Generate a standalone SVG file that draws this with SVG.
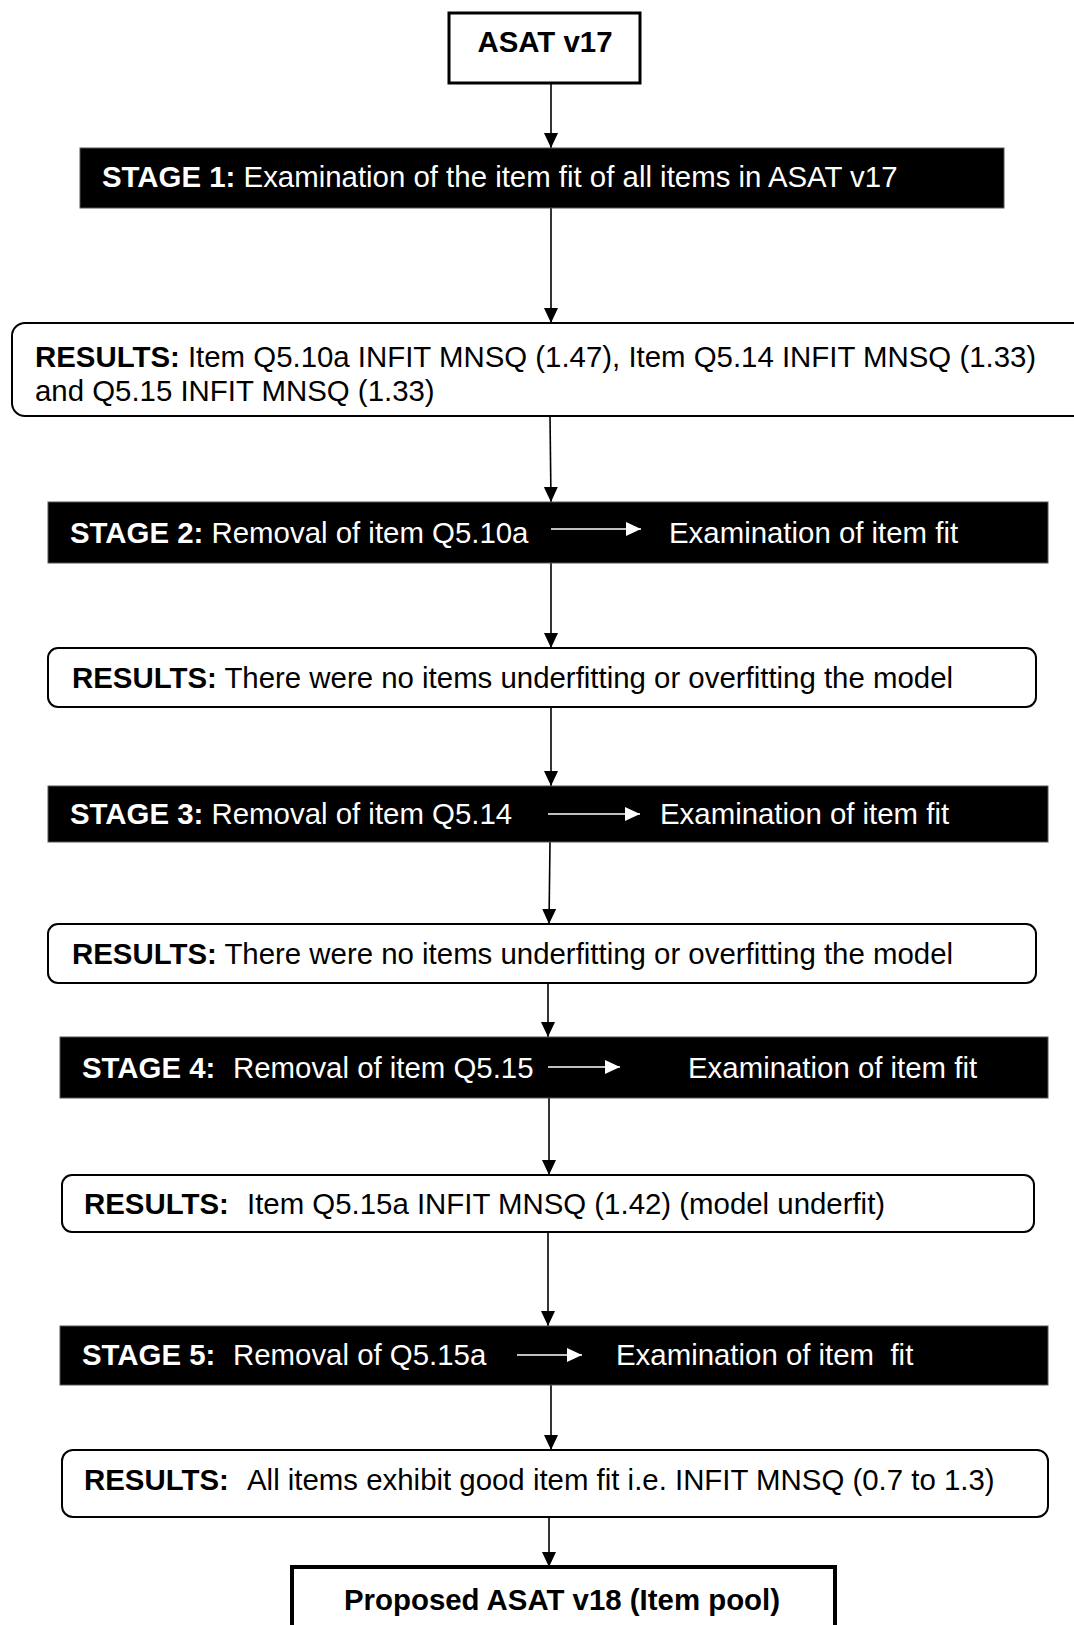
<svg xmlns="http://www.w3.org/2000/svg" width="1074" height="1625" viewBox="0 0 1074 1625">
<style>
text{font-family:"Liberation Sans",Arial,sans-serif;font-size:29.4px}
.b{font-weight:bold}
.w{fill:#fff}
.k{fill:#000}
.stage{fill:#000;stroke:#555;stroke-width:1}
.res{fill:#fff;stroke:#000;stroke-width:2}
.term{fill:#fff;stroke:#000}
.conn{stroke:#000;stroke-width:1.6;fill:none;marker-end:url(#ah)}
.inl{stroke:#fff;stroke-width:1.6;fill:none;marker-end:url(#ahw)}
</style>
<defs>
<marker id="ah" markerUnits="userSpaceOnUse" markerWidth="16" markerHeight="16" viewBox="0 0 16 16" refX="15" refY="8" orient="auto">
<path d="M0,1 L15,8 L0,15 Z" fill="#000"/>
</marker>
<marker id="ahw" markerUnits="userSpaceOnUse" markerWidth="16" markerHeight="16" viewBox="0 0 16 16" refX="15" refY="8" orient="auto">
<path d="M0,1 L15,8 L0,15 Z" fill="#fff"/>
</marker>
</defs>
<rect width="1074" height="1625" fill="#fff"/>

<g id="connectors">
<line class="conn" x1="551" y1="84" x2="551" y2="148"/>
<line class="conn" x1="551" y1="208" x2="551" y2="323"/>
<line class="conn" x1="550" y1="416" x2="551" y2="502"/>
<line class="conn" x1="551" y1="563" x2="551" y2="648"/>
<line class="conn" x1="551" y1="707" x2="551" y2="786"/>
<line class="conn" x1="550" y1="842" x2="549" y2="924"/>
<line class="conn" x1="548" y1="983" x2="548" y2="1037"/>
<line class="conn" x1="549" y1="1098" x2="549" y2="1175"/>
<line class="conn" x1="548" y1="1232" x2="548" y2="1326"/>
<line class="conn" x1="551" y1="1385" x2="551" y2="1450"/>
<line class="conn" x1="549" y1="1517" x2="549" y2="1567"/>
</g>

<g id="asat17">
<rect class="term" x="449" y="13" width="191" height="70" stroke-width="3"/>
<text class="b k" x="545" y="52" text-anchor="middle">ASAT v17</text>
</g>

<g id="stage1">
<rect class="stage" x="80" y="148" width="924" height="60"/>
<text class="w" x="102" y="187"><tspan class="b">STAGE 1:</tspan> Examination of the item fit of all items in ASAT v17</text>
</g>

<g id="results1">
<rect class="res" x="12" y="323" width="1075" height="93" rx="13"/>
<text class="k" x="35" y="367"><tspan class="b">RESULTS:</tspan> Item Q5.10a INFIT MNSQ (1.47), Item Q5.14 INFIT MNSQ (1.33)</text>
<text class="k" x="35" y="401">and Q5.15 INFIT MNSQ (1.33)</text>
</g>

<g id="stage2">
<rect class="stage" x="48" y="502" width="1000" height="61"/>
<text class="w" x="70" y="543"><tspan class="b">STAGE 2:</tspan> Removal of item Q5.10a</text>
<line class="inl" x1="551" y1="529" x2="641" y2="529"/>
<text class="w" x="669" y="543">Examination of item fit</text>
</g>

<g id="results2">
<rect class="res" x="48" y="648" width="988" height="59" rx="10"/>
<text class="k" x="72" y="688"><tspan class="b">RESULTS:</tspan> There were no items underfitting or overfitting the model</text>
</g>

<g id="stage3">
<rect class="stage" x="48" y="786" width="1000" height="56"/>
<text class="w" x="70" y="824"><tspan class="b">STAGE 3:</tspan> Removal of item Q5.14</text>
<line class="inl" x1="548" y1="814" x2="640" y2="814"/>
<text class="w" x="660" y="824">Examination of item fit</text>
</g>

<g id="results3">
<rect class="res" x="48" y="924" width="988" height="59" rx="10"/>
<text class="k" x="72" y="964"><tspan class="b">RESULTS:</tspan> There were no items underfitting or overfitting the model</text>
</g>

<g id="stage4">
<rect class="stage" x="60" y="1037" width="988" height="61"/>
<text class="w b" x="82" y="1078">STAGE 4:</text>
<text class="w" x="233" y="1078">Removal of item Q5.15</text>
<line class="inl" x1="548" y1="1067" x2="620" y2="1067"/>
<text class="w" x="688" y="1078">Examination of item fit</text>
</g>

<g id="results4">
<rect class="res" x="62" y="1175" width="972" height="57" rx="10"/>
<text class="k b" x="84" y="1214">RESULTS:</text>
<text class="k" x="247" y="1214">Item Q5.15a INFIT MNSQ (1.42) (model underfit)</text>
</g>

<g id="stage5">
<rect class="stage" x="60" y="1326" width="988" height="59"/>
<text class="w b" x="82" y="1365">STAGE 5:</text>
<text class="w" x="233" y="1365">Removal of Q5.15a</text>
<line class="inl" x1="517" y1="1355" x2="582" y2="1355"/>
<text class="w" x="616" y="1365" xml:space="preserve">Examination of item  fit</text>
</g>

<g id="results5">
<rect class="res" x="62" y="1450" width="986" height="67" rx="11"/>
<text class="k b" x="84" y="1490">RESULTS:</text>
<text class="k" x="247" y="1490">All items exhibit good item fit i.e. INFIT MNSQ (0.7 to 1.3)</text>
</g>

<g id="asat18">
<rect class="term" x="292" y="1567" width="543" height="80" stroke-width="4"/>
<text class="b k" x="562" y="1610" text-anchor="middle">Proposed ASAT v18 (Item pool)</text>
</g>
</svg>
